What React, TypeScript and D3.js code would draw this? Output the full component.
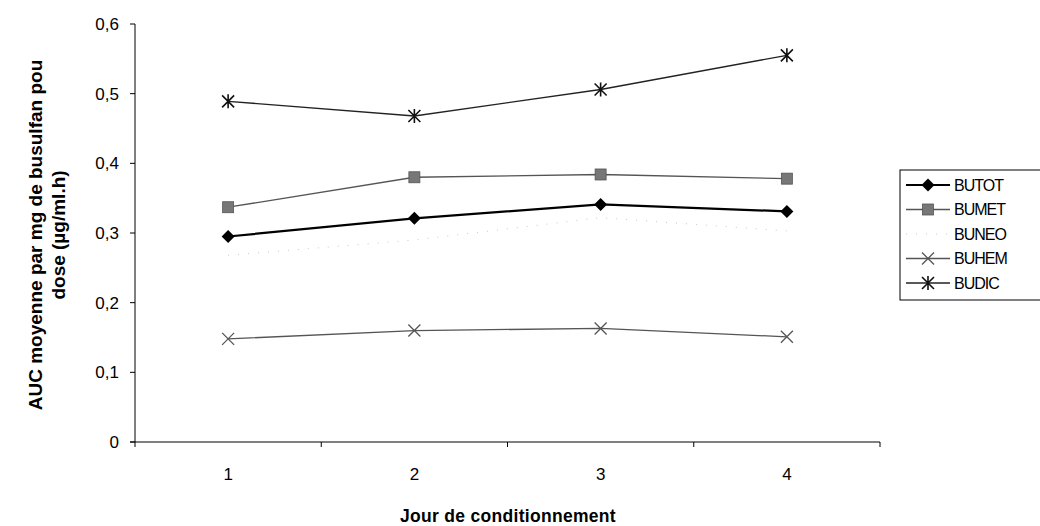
import React from "react";
import * as d3 from "d3";

const days = ["1", "2", "3", "4"];
const yTicks = [0, 0.1, 0.2, 0.3, 0.4, 0.5, 0.6];
const butot = [0.295, 0.321, 0.341, 0.331];
const bumet = [0.337, 0.38, 0.384, 0.378];
const buneo = [0.268, 0.29, 0.322, 0.303];
const buhem = [0.148, 0.16, 0.163, 0.151];
const budic = [0.489, 0.468, 0.506, 0.555];
const seriesNames = ["BUTOT", "BUMET", "BUNEO", "BUHEM", "BUDIC"];

const W = 1040, H = 526;
const left = 135, right = 880, top = 24, bottom = 442;

type Style = { color: string; width: number; dash?: string; marker: string; mcolor: string };
const styles: Style[] = [
  { color: "#000", width: 2.2, marker: "diamond", mcolor: "#000" },
  { color: "#555", width: 1.3, marker: "square", mcolor: "#777" },
  { color: "#c8c8c8", width: 1, dash: "1,9", marker: "none", mcolor: "#ccc" },
  { color: "#555", width: 1.3, marker: "x", mcolor: "#555" },
  { color: "#222", width: 1.4, marker: "star", mcolor: "#111" },
];

function Marker({ kind, x, y, color }: { kind: string; x: number; y: number; color: string }) {
  if (kind === "diamond") {
    const s = 6.5;
    return <path d={`M${x},${y - s}L${x + s},${y}L${x},${y + s}L${x - s},${y}Z`} fill={color} />;
  }
  if (kind === "square") {
    return <rect x={x - 5.5} y={y - 5.5} width={11} height={11} fill={color} stroke="#555" strokeWidth={0.8} />;
  }
  if (kind === "x") {
    const s = 6;
    return (
      <path d={`M${x - s},${y - s}L${x + s},${y + s}M${x - s},${y + s}L${x + s},${y - s}`} stroke={color} strokeWidth={1.3} />
    );
  }
  if (kind === "star") {
    const s = 6;
    return (
      <path
        d={`M${x - s},${y - s}L${x + s},${y + s}M${x - s},${y + s}L${x + s},${y - s}M${x},${y - s - 1}L${x},${y + s + 1}`}
        stroke={color}
        strokeWidth={1.6}
      />
    );
  }
  return null;
}

export default function App() {
  const data = [butot, bumet, buneo, buhem, budic];
  const x = d3.scaleBand<string>().domain(days).range([left, right]).padding(0);
  const y = d3.scaleLinear().domain([0, 0.6]).range([bottom, top]);
  const cx = (d: string) => (x(d) as number) + x.bandwidth() / 2;
  const line = d3
    .line<number>()
    .x((_, i) => cx(days[i]))
    .y((v) => y(v));
  const fmt = (v: number) => (v === 0 ? "0" : d3.format(".1f")(v).replace(".", ","));
  const font = "Liberation Sans, Arial, sans-serif";
  const legX = 900, legY = 170, legW = 150, legH = 130;
  const rowH = 24.5;

  return (
    <svg width={W} height={H} style={{ position: "absolute", left: 0, top: 0, background: "#fff" }} fontFamily={font}>
      <rect width={W} height={H} fill="#fff" />
      {/* y axis */}
      <line x1={left} x2={left} y1={top} y2={bottom} stroke="#000" strokeWidth={1} />
      {yTicks.map((t) => (
        <g key={t}>
          <line x1={left - 5} x2={left} y1={y(t)} y2={y(t)} stroke="#000" />
          <text x={left - 16} y={y(t)} dy="0.35em" textAnchor="end" fontSize={17}>
            {fmt(t)}
          </text>
        </g>
      ))}
      {/* x axis */}
      <line x1={left - 5} x2={right} y1={bottom} y2={bottom} stroke="#000" strokeWidth={1} />
      {[...days.map((d) => x(d) as number), right].map((v, i) => (
        <line key={i} x1={v} x2={v} y1={bottom} y2={bottom + 5} stroke="#000" />
      ))}
      {days.map((d) => (
        <text key={d} x={cx(d)} y={480} textAnchor="middle" fontSize={17}>
          {d}
        </text>
      ))}
      <text x={508} y={522} textAnchor="middle" fontSize={17.5} fontWeight="bold" letterSpacing={0.3}>
        Jour de conditionnement
      </text>
      <text transform={`translate(42,${(top + bottom) / 2 + 2}) rotate(-90)`} textAnchor="middle" fontSize={19} fontWeight="bold">
        AUC moyenne par mg de busulfan pou
      </text>
      <text transform={`translate(65,${(top + bottom) / 2 + 2}) rotate(-90)`} textAnchor="middle" fontSize={19} fontWeight="bold">
        dose (µg/ml.h)
      </text>
      {/* series */}
      {data.map((vals, si) => (
        <g key={si}>
          <path
            d={line(vals) as string}
            fill="none"
            stroke={styles[si].color}
            strokeWidth={styles[si].width}
            strokeDasharray={styles[si].dash}
          />
          {vals.map((v, i) => (
            <Marker key={i} kind={styles[si].marker} x={cx(days[i])} y={y(v)} color={styles[si].mcolor} />
          ))}
        </g>
      ))}
      {/* legend */}
      <rect x={legX} y={legY} width={legW} height={legH} fill="#fff" stroke="#000" strokeWidth={1} />
      {seriesNames.map((n, i) => {
        const ly = legY + 15 + i * rowH;
        const st = styles[i];
        return (
          <g key={n}>
            <line x1={legX + 6} x2={legX + 50} y1={ly} y2={ly} stroke={st.color} strokeWidth={st.width} strokeDasharray={st.dash} />
            <Marker kind={st.marker} x={legX + 28} y={ly} color={st.mcolor} />
            <text x={legX + 54} y={ly} dy="0.35em" fontSize={16} letterSpacing={-1}>
              {n}
            </text>
          </g>
        );
      })}
    </svg>
  );
}
